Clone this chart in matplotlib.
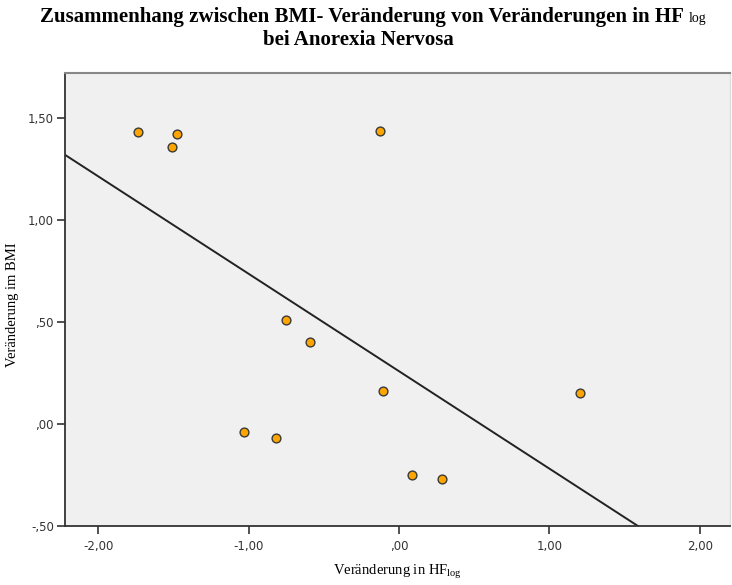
import numpy as np
import matplotlib
matplotlib.use("Agg")
import matplotlib.pyplot as plt

# Data
hf_change = [-1.735, -1.478, -1.509, -0.128, -0.749, -0.594, -0.106,
             -1.033, -0.815, 0.087, 0.286, 1.201]
bmi_change = [1.433, 1.421, 1.361, 1.435, 0.508, 0.402, 0.162,
              -0.038, -0.069, -0.251, -0.270, 0.150]

x_ticks = [-2.0, -1.0, 0.0, 1.0, 2.0]
x_tick_labels = ["-2,00", "-1,00", ",00", "1,00", "2,00"]
y_ticks = [-0.5, 0.0, 0.5, 1.0, 1.5]
y_tick_labels = ["-,50", ",00", ",50", "1,00", "1,50"]

title_line1 = "Zusammenhang zwischen BMI- Veränderung von Veränderungen in HF"
title_sub = "log"
title_line2 = "bei Anorexia Nervosa"
xlabel = "Veränderung in HF$_{\\mathrm{log}}$"
ylabel = "Veränderung im BMI"

plt.rcParams["mathtext.fontset"] = "custom"
plt.rcParams["mathtext.rm"] = "Liberation Serif"
plt.rcParams["mathtext.it"] = "Liberation Serif:italic"

fig = plt.figure(figsize=(7.32, 5.85), dpi=100)
ax = fig.add_axes([65 / 732, 1 - 525.7 / 585, (730 - 65) / 732, (525.7 - 73) / 585])
ax.set_facecolor("#f0f0f0")

xmin, xmax = -2.22, 2.20
ymin, ymax = -0.50, 1.722
ax.set_xlim(xmin, xmax)
ax.set_ylim(ymin, ymax)

ax.scatter(hf_change, bmi_change, s=40, facecolor="#ffa500", edgecolor="#3a3a3a",
           linewidth=1.0, zorder=3)

slope, intercept = np.polyfit(hf_change, bmi_change, 1)
xs = np.array([xmin, xmax])
ax.plot(xs, intercept + slope * xs, color="#222222", linewidth=1.4, zorder=2)

ax.set_xticks(x_ticks)
ax.set_xticklabels(x_tick_labels)
ax.set_yticks(y_ticks)
ax.set_yticklabels(y_tick_labels)
ax.tick_params(direction="out", length=6, width=1.2, color="#333333",
               labelsize=8.5, labelcolor="#333333", pad=2)
ax.tick_params(axis="x", pad=4)
for lab in ax.get_xticklabels() + ax.get_yticklabels():
    lab.set_family("DejaVu Sans")

ax.spines["left"].set_color("#333333")
ax.spines["bottom"].set_color("#333333")
ax.spines["left"].set_linewidth(1.3)
ax.spines["bottom"].set_linewidth(1.3)
ax.spines["top"].set_color("#888888")
ax.spines["top"].set_linewidth(1.5)
ax.spines["right"].set_color("#dddddd")
ax.spines["right"].set_linewidth(1.0)

ax.set_xlabel(xlabel, family="Liberation Serif", fontsize=10.5, va="center")
ax.xaxis.set_label_coords((397 - 65) / 665, (525.7 - 572) / 452.7)
ax.set_ylabel(ylabel, family="Liberation Serif", fontsize=10.5, va="center")
ax.yaxis.set_label_coords((13 - 65) / 665, (525.7 - 305) / 452.7)

t1 = fig.text(0.495, 1 - 17 / 585, title_line1, ha="center", va="center",
              family="Liberation Serif", fontweight="bold", fontsize=15)
fig.text(0.49, 1 - 40 / 585, title_line2, ha="center", va="center",
         family="Liberation Serif", fontweight="bold", fontsize=15)
fig.canvas.draw()
bb = t1.get_window_extent()
fig.text((bb.x1 + 4) / fig.bbox.width, (bb.y0 + 2) / fig.bbox.height, title_sub,
         ha="left", va="bottom", family="Liberation Serif", fontsize=10)

fig.savefig("out.png", dpi=100)
